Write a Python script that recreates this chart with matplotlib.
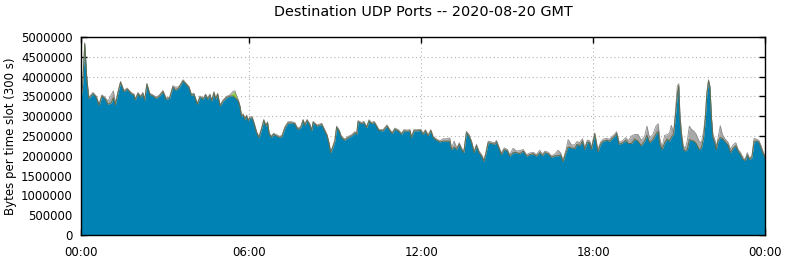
import numpy as np
import matplotlib
matplotlib.use("Agg")
import matplotlib.pyplot as plt

# time of day in hours
hours = [
    0.13, 0.19, 0.26, 0.33, 0.40, 0.55, 0.66, 0.76, 0.86, 0.96, 1.07, 1.19,
    1.26, 1.33, 1.42, 1.51, 1.63, 1.74, 1.88, 1.98, 2.02, 2.12, 2.21, 2.29,
    2.35, 2.43, 2.53, 2.64, 2.76, 2.87, 2.99, 3.10, 3.22, 3.34, 3.43, 3.55,
    3.69, 3.80, 3.90, 3.98, 4.07, 4.19, 4.28, 4.40, 4.48, 4.55, 4.63, 4.69,
    4.77, 4.83, 4.90, 4.98, 5.09, 5.21, 5.33, 5.44, 5.50, 5.56, 5.62, 5.68,
    5.73, 5.79, 5.85, 5.91, 5.97, 6.02, 6.10, 6.17, 6.26, 6.34, 6.43, 6.51,
    6.58, 6.64, 6.70, 6.78, 6.85, 6.96, 7.07, 7.15, 7.25, 7.36, 7.48, 7.59,
    7.69, 7.80, 7.88, 7.94, 8.02, 8.12, 8.18, 8.23, 8.37, 8.53, 8.64, 8.72,
    8.79, 8.84, 8.91, 8.99, 9.05, 9.14, 9.22, 9.34, 9.45, 9.57, 9.69, 9.75,
    9.80, 9.92, 10.00, 10.10, 10.18, 10.27, 10.36, 10.44, 10.52, 10.67, 10.81, 10.91,
    10.99, 11.08, 11.20, 11.32, 11.40, 11.51, 11.61, 11.66, 11.75, 11.86, 11.98, 12.07,
    12.15, 12.24, 12.34, 12.42, 12.54, 12.65, 12.77, 12.89, 13.00, 13.06, 13.15, 13.24,
    13.33, 13.41, 13.49, 13.58, 13.67, 13.76, 13.85, 13.93, 14.02, 14.11, 14.19, 14.26,
    14.34, 14.46, 14.57, 14.63, 14.71, 14.80, 14.90, 15.01, 15.09, 15.21, 15.33, 15.44,
    15.56, 15.68, 15.79, 15.91, 16.02, 16.14, 16.23, 16.32, 16.43, 16.55, 16.66, 16.78,
    16.87, 16.95, 17.05, 17.13, 17.25, 17.36, 17.44, 17.53, 17.63, 17.71, 17.80, 17.88,
    17.94, 18.00, 18.06, 18.12, 18.17, 18.26, 18.35, 18.47, 18.58, 18.68, 18.76, 18.82,
    18.91, 19.03, 19.14, 19.23, 19.34, 19.45, 19.57, 19.68, 19.80, 19.88, 19.97, 20.09,
    20.19, 20.27, 20.33, 20.41, 20.50, 20.59, 20.67, 20.73, 20.81, 20.88, 20.94, 20.99,
    21.03, 21.08, 21.15, 21.22, 21.29, 21.36, 21.43, 21.52, 21.60, 21.70, 21.78, 21.86,
    21.92, 21.97, 22.03, 22.08, 22.13, 22.18, 22.24, 22.30, 22.36, 22.44, 22.51, 22.59,
    22.71, 22.80, 22.89, 22.98, 23.06, 23.15, 23.23, 23.31, 23.38, 23.46, 23.54, 23.62,
    23.70, 23.78, 23.85, 23.92, 24.00,
]

# main port traffic (million bytes per slot)
blue = [
    3.42, 3.80, 4.83, 3.97, 3.45, 3.57, 3.48, 3.28, 3.51, 3.45, 3.30, 3.34,
    3.47, 3.28, 3.59, 3.85, 3.62, 3.68, 3.57, 3.53, 3.41, 3.57, 3.48, 3.57,
    3.40, 3.80, 3.55, 3.51, 3.45, 3.51, 3.62, 3.43, 3.45, 3.74, 3.65, 3.72,
    3.89, 3.80, 3.72, 3.53, 3.55, 3.30, 3.48, 3.43, 3.53, 3.43, 3.53, 3.38,
    3.59, 3.43, 3.55, 3.26, 3.38, 3.47, 3.51, 3.51, 3.47, 3.43, 3.38, 3.23,
    3.00, 3.03, 2.92, 3.00, 2.88, 2.95, 2.96, 2.81, 2.58, 2.46, 2.67, 2.89,
    2.75, 2.83, 2.54, 2.47, 2.54, 2.50, 2.46, 2.50, 2.71, 2.83, 2.83, 2.81,
    2.67, 2.71, 2.89, 2.77, 2.89, 2.77, 2.63, 2.84, 2.75, 2.79, 2.62, 2.50,
    2.29, 2.08, 2.20, 2.37, 2.72, 2.62, 2.46, 2.39, 2.46, 2.50, 2.58, 2.54,
    2.86, 2.81, 2.84, 2.71, 2.88, 2.81, 2.84, 2.75, 2.64, 2.63, 2.75, 2.63,
    2.56, 2.67, 2.63, 2.54, 2.63, 2.62, 2.63, 2.46, 2.63, 2.63, 2.64, 2.54,
    2.63, 2.50, 2.63, 2.46, 2.39, 2.35, 2.37, 2.37, 2.37, 2.16, 2.22, 2.16,
    2.29, 2.16, 2.08, 2.58, 2.50, 2.33, 2.08, 2.25, 2.08, 1.99, 1.86, 2.05,
    2.33, 2.31, 2.29, 2.35, 2.20, 2.03, 2.16, 2.12, 1.99, 2.08, 2.08, 2.05,
    2.12, 1.99, 2.03, 2.05, 1.99, 2.08, 2.00, 2.08, 2.05, 1.96, 2.00, 2.00,
    2.02, 1.85, 2.08, 2.22, 2.20, 2.18, 2.29, 2.25, 2.37, 2.16, 2.35, 2.33,
    2.16, 2.35, 2.54, 2.29, 2.10, 2.29, 2.37, 2.39, 2.37, 2.45, 2.50, 2.56,
    2.29, 2.33, 2.39, 2.31, 2.31, 2.42, 2.37, 2.25, 2.37, 2.52, 2.33, 2.41,
    2.54, 2.62, 2.29, 2.16, 2.33, 2.42, 2.37, 2.47, 2.54, 3.05, 3.55, 3.76,
    2.96, 2.54, 2.16, 2.12, 2.16, 2.41, 2.39, 2.37, 2.31, 2.16, 2.20, 2.46,
    2.96, 3.55, 3.89, 3.72, 2.96, 2.46, 2.35, 2.16, 2.37, 2.46, 2.44, 2.37,
    2.27, 2.08, 2.20, 2.25, 2.12, 2.02, 1.91, 1.88, 2.02, 1.91, 1.95, 2.37,
    2.37, 2.35, 2.22, 2.08, 1.95,
]

# everything else stacked on top (million bytes per slot)
gray = [
    0.03, 0.03, 0.02, 0.03, 0.03, 0.03, 0.03, 0.03, 0.03, 0.03, 0.08, 0.21,
    0.17, 0.05, 0.03, 0.03, 0.03, 0.03, 0.03, 0.03, 0.03, 0.03, 0.03, 0.03,
    0.03, 0.03, 0.03, 0.03, 0.03, 0.03, 0.03, 0.03, 0.03, 0.03, 0.08, 0.03,
    0.03, 0.03, 0.03, 0.03, 0.03, 0.03, 0.03, 0.03, 0.03, 0.03, 0.03, 0.03,
    0.03, 0.03, 0.03, 0.03, 0.03, 0.03, 0.03, 0.03, 0.03, 0.03, 0.03, 0.03,
    0.03, 0.03, 0.03, 0.03, 0.03, 0.03, 0.03, 0.03, 0.03, 0.03, 0.03, 0.03,
    0.03, 0.03, 0.03, 0.03, 0.03, 0.03, 0.03, 0.03, 0.03, 0.03, 0.03, 0.03,
    0.03, 0.03, 0.03, 0.03, 0.03, 0.03, 0.03, 0.03, 0.03, 0.03, 0.03, 0.03,
    0.03, 0.03, 0.03, 0.03, 0.03, 0.03, 0.03, 0.03, 0.03, 0.03, 0.03, 0.03,
    0.03, 0.03, 0.03, 0.03, 0.03, 0.03, 0.03, 0.03, 0.03, 0.03, 0.03, 0.03,
    0.03, 0.03, 0.03, 0.03, 0.03, 0.03, 0.03, 0.03, 0.03, 0.03, 0.03, 0.03,
    0.03, 0.03, 0.03, 0.03, 0.03, 0.03, 0.06, 0.06, 0.08, 0.03, 0.15, 0.04,
    0.04, 0.04, 0.04, 0.04, 0.04, 0.04, 0.04, 0.04, 0.04, 0.04, 0.04, 0.04,
    0.04, 0.04, 0.04, 0.04, 0.04, 0.04, 0.04, 0.04, 0.04, 0.11, 0.04, 0.08,
    0.04, 0.04, 0.04, 0.04, 0.04, 0.06, 0.04, 0.04, 0.04, 0.04, 0.04, 0.14,
    0.05, 0.04, 0.05, 0.19, 0.07, 0.10, 0.07, 0.08, 0.06, 0.05, 0.05, 0.05,
    0.05, 0.06, 0.04, 0.05, 0.05, 0.05, 0.05, 0.05, 0.05, 0.05, 0.05, 0.05,
    0.05, 0.05, 0.07, 0.07, 0.19, 0.12, 0.17, 0.14, 0.12, 0.23, 0.12, 0.13,
    0.20, 0.19, 0.13, 0.06, 0.19, 0.11, 0.21, 0.30, 0.04, 0.12, 0.21, 0.06,
    0.13, 0.08, 0.08, 0.08, 0.23, 0.34, 0.28, 0.25, 0.23, 0.21, 0.13, 0.17,
    0.08, 0.05, 0.03, 0.03, 0.04, 0.08, 0.08, 0.08, 0.07, 0.30, 0.10, 0.07,
    0.07, 0.08, 0.08, 0.08, 0.04, 0.06, 0.04, 0.03, 0.06, 0.03, 0.03, 0.07,
    0.05, 0.04, 0.06, 0.05, 0.05,
]

# small green port, only visible around 05:30
green = np.zeros(len(hours))
green[55:58] = [0.09, 0.14, 0.05]

xtick_pos = [0.13, 6, 12, 18, 24]
xtick_labels = ["00:00", "06:00", "12:00", "18:00", "00:00"]
yticks = [0, 500000, 1000000, 1500000, 2000000, 2500000,
          3000000, 3500000, 4000000, 4500000, 5000000]

t = np.array(hours)
b = np.array(blue) * 1e6
g = b + green * 1e6
top = g + np.array(gray) * 1e6

fig = plt.figure(figsize=(7.86, 2.6), dpi=100)
ax = fig.add_axes([81 / 786, 25 / 260, 684 / 786, 198 / 260])

ax.fill_between(t, g, top, color="#a8a8a8", lw=0, zorder=2)
ax.plot(t, top, color="#8c8c8c", lw=0.6, zorder=3)
ax.fill_between(t, b, g, color="#8fd03a", lw=0, zorder=2)
ax.fill_between(t, 0, b, color="#0083b4", lw=0, zorder=2)
ax.plot(t, b, color="#5d6b4c", lw=0.7, zorder=3)

ax.set_xlim(0.13, 24)
ax.set_ylim(0, 5000000)
ax.set_xticks(xtick_pos)
ax.set_xticklabels(xtick_labels)
ax.set_yticks(yticks)
ax.set_yticklabels([str(v) for v in yticks])

ax.grid(True, color="#b4b4b4", linestyle=(0, (1, 2.5)), linewidth=0.8, zorder=1)
ax.set_axisbelow(True)
ax.tick_params(direction="in", length=4, width=1, top=True, right=True,
               labelsize=8.5, pad=6, colors="black")
ax.tick_params(axis="x", pad=8)
for s in ax.spines.values():
    s.set_linewidth(1)
    s.set_zorder(5)

ax.set_ylabel("Bytes per time slot (300 s)", fontsize=8.5)
ax.yaxis.set_label_coords(-0.094, 0.5)
fig.text(423 / 786, 1 - 12 / 260, "Destination UDP Ports -- 2020-08-20 GMT",
         ha="center", va="center", fontsize=10.4)

fig.savefig("out.png", dpi=100)
